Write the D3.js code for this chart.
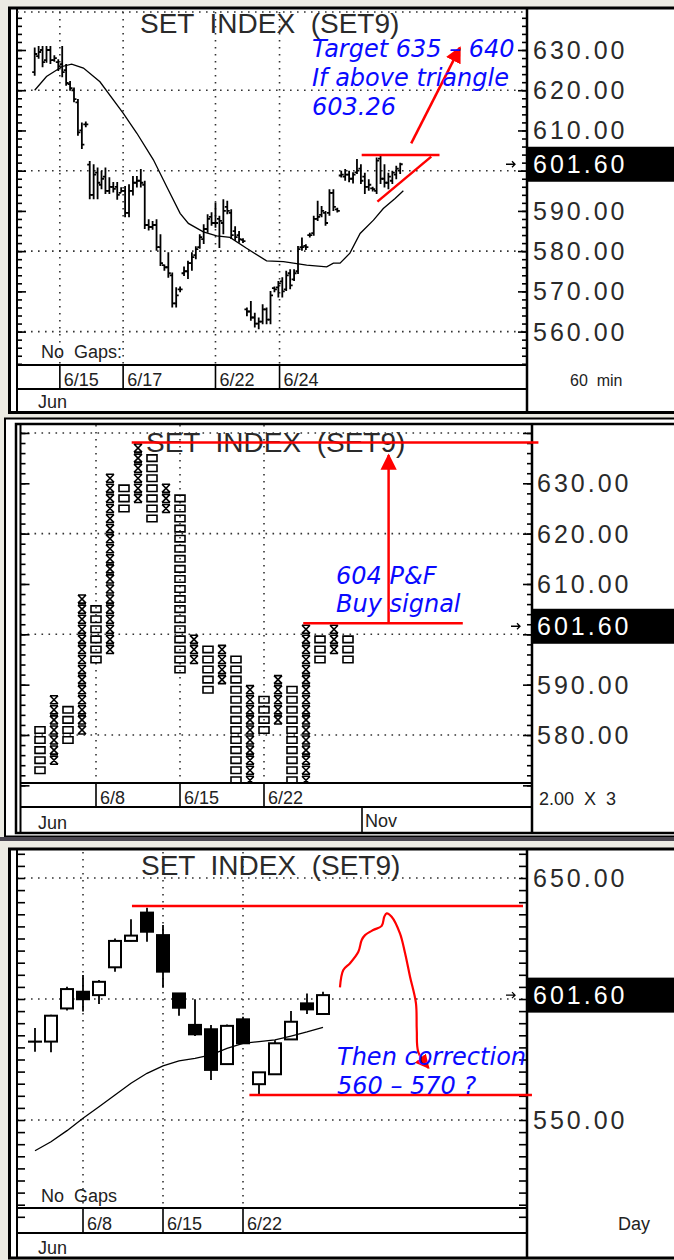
<!DOCTYPE html>
<html>
<head>
<meta charset="utf-8">
<script src="https://cdn.jsdelivr.net/npm/d3@7"></script>
<style>
  body { margin: 0; background: #ecebe3; }
  svg { display: block; }
  text { font-family: "Liberation Sans", Arial, sans-serif; }
  .note { font-family: "DejaVu Sans", Verdana, sans-serif; font-style: italic; fill: #0a0aff; font-size: 24px; }
</style>
</head>
<body>
<svg id="chart" width="674" height="1260"></svg>
<script>
// ---------- panel 1 : 60 min bars ----------
const hi1 = [630.4,630.8,630.8,630.8,630.8,628.5,627.5,630.8,626.3,622.1,
  620.5,617.6,611.8,612,602.2,601.4,600.6,599.8,600.6,598.2,
  597,597,595.7,596,596.4,598.5,598.5,600.2,597.3,587.7,
  587.3,587.7,584,576.5,579.5,574.5,570.8,571,576,577.4,
  579.5,581,584,586.5,589,589.5,591.9,588.6,592.7,592.3,
  590.2,586,584.8,583,565.8,567.4,564.5,563.3,566.6,565.8,
  569.9,571,572.4,573.3,574.9,575.3,575.3,581.1,583.2,581.5,
  584.4,588.6,592.3,591,589.8,595.2,595.2,590.6,599.8,600.2,
  599.8,599.4,602.7,601.4,599.3,597.7,595.8,603.1,603.5,601.4,
  599.3,599.8,601,601.8]
const lo1 = [623.8,628,625.9,627,626.7,627.3,625,623.4,621.3,620.1,
  617.2,608.9,605.6,611,593.1,593.1,593.1,595.6,594.4,594.4,
  594.8,593,594.8,588.6,588.6,594,596,596,585.7,585.3,
  585.5,580.3,576.5,575.3,573.6,566.2,566.2,570,574,573.3,
  575.3,578.2,580.8,582,584.8,586.5,586,581,584.4,589.4,
  583.2,582.8,582.3,582.2,564,562.9,561.2,560.8,562,562,
  562,570,568.7,568.7,570.3,570.7,572.8,574.5,580.3,580.5,
  583.6,584,587.7,588.6,586.5,589,590.2,589.8,598.5,597.7,
  597.3,597,599.4,596.9,594.4,595.2,595,594.4,596.9,596,
  595.6,596.9,598.1,599.4]
const op1 = [624.5,628.5,630,627.5,630,627.5,627,626.5,625,621.5,
  620,617,610,611.5,601.5,594,599.5,596.5,598.5,595,
  596,596,594.5,595,589.5,595,597,597.5,596.5,586.5,
  586,586.5,581,576.5,576,574,567,570.5,574.5,575,
  577,579,581,583,585.5,588.5,587,588,587,591,
  589.5,585,584,582.8,565.5,565,563.5,562,562.5,565.5,
  563,570.8,571,572.5,570.5,574.5,573,575,581,581.3,
  584,584.5,588,589,589.5,589.5,594.5,590.4,598.8,598.5,
  599,598,599.6,600.5,598.5,596,595.6,595,603,598,
  597,597.5,599,600]
const cl1 = [629,629.5,627,630,627.5,628,626,624.5,621.8,620.5,
  617.8,609.5,606.5,611.5,594,599,597,598,595,596,
  595.5,594,595,589.5,595,597,597.5,597,586.5,586,
  586.5,581,577,576,574.5,567,569,570.5,575,577,
  578.5,580.5,583.5,585.5,588,587,587,587.5,590,590,
  584,583.5,583,582.5,565,563.5,562,562.5,565.5,563,
  569,570.5,572,570,574,571.5,574.5,580.5,581,581,
  584,588,588.5,590,587,594.5,591,590,599,599,
  598,599,600,597.5,596,596.5,595.4,602.5,598,597,
  598.5,599.5,600.5,601.6]
// moving average, [bar index, value]
const ma1 = [[0,620],[3,623.4],[7,625.9],[9.4,626.5],[12.4,625.5],[16.6,622.1],[22.5,614.3],
  [26,609.3],[30.2,602.7],[33.6,596],[37,589.4],[39.1,586.9],[42.9,584.8],[46.3,583.8],
  [49.7,583.4],[53.9,580.7],[59,577.6],[63.3,577.4],[69.2,576.5],[74.3,576.1],[76,577],
  [77.7,577],[80.2,579.5],[82.8,584.4],[86.2,587.7],[88.7,590.6],[91.7,593.1],[93.8,595]]
const days1 = ['6/15', '6/17', '6/22', '6/24']
const dayAt1 = [6.4, 22.5, 46, 62.3]
const labels1 = [630, 620, 610, 590, 580, 570, 560]

// ---------- panel 2 : point & figure 2.00 x 3 ----------
const pfType = ['O','X','O','X','O','X','O','X','O','X','O','X','O','X','O','X','O','X','O','X','O','X','O']
const pfLow  = [572,574,578,580,594,596,624,626,622,624,592,594,588,590,566,568,580,582,564,566,594,596,594]
const pfHigh = [582,588,586,608,606,632,630,638,636,630,628,600,598,598,596,590,588,592,590,602,600,602,600]
const days2 = ['6/8', '6/15', '6/22']
const dayAt2 = [4, 10, 16]
const labels2 = [630, 620, 610, 590, 580]

// ---------- panel 3 : daily candles ----------
const op3 = [582.4,582.4,596.1,603,601.6,613.1,624,635.7,626.4,602.3,589.3,587.5,573.1,591.6,564.8,568.9,583.3,598.2,593.8]
const cl3 = [582.4,593.1,604.1,599.9,607.1,624,626.2,627.8,611.3,596.4,585.4,570.7,588.9,581.7,569.7,581.7,590.6,595.7,601.6]
const hi3 = [588,593.5,605.1,609.9,607.8,625,633,637.7,630.6,602.5,599.9,589.3,589.5,592.7,569.8,583,595,602.3,603]
const lo3 = [578.2,578,595.2,594.8,597.9,611.3,623.8,623.7,604.7,593.1,584.7,566.5,573,581.5,560.3,568.8,583.2,593.8,593.6]
const ma3 = [537.3,541,545.6,550.7,555.5,560.3,565.2,569.3,572.4,574.4,575.5,576.9,579.6,581.7,582.4,583.1,584.7,586.4,588.3]
const days3 = ['6/8', '6/15', '6/22']
const dayAt3 = [3, 8, 13]
const labels3 = [650, 550]

const lastPrice = 601.60
const title = 'SET INDEX (SET9)'

// ---------- scales ----------
const x1 = d3.scaleLinear().domain([0, 93]).range([34.7, 400.2])
const y1 = d3.scaleLinear().domain([560, 630]).range([331.6, 50])
const x2 = d3.scaleLinear().domain([0, 1]).range([40, 54])
const y2 = d3.scaleLinear().domain([580, 630]).range([735, 483.3])
const x3 = d3.scaleLinear().domain([0, 1]).range([35, 51])
const y3 = d3.scaleLinear().domain([550, 650]).range([1120, 878])

const svg = d3.select('#chart')
const fmt = d3.format('.2f')

svg.append('defs').append('marker')
    .attr('id', 'head')
    .attr('viewBox', '0 0 10 10')
    .attr('refX', 9).attr('refY', 5)
    .attr('markerWidth', 6.5).attr('markerHeight', 6.5)
    .attr('markerUnits', 'strokeWidth')
    .attr('orient', 'auto')
  .append('path')
    .attr('d', 'M0,0 L10,5 L0,10 z')
    .attr('fill', '#ff0000')

// panel frame, grid, ticks, labels
function panel(c) {
  let g = svg.append('g')
  g.append('rect').attr('x', c.box[0]).attr('y', c.box[1])
      .attr('width', 700 - c.box[0]).attr('height', c.box[3] - c.box[1])
      .attr('fill', '#fff').attr('stroke', '#000').attr('stroke-width', c.boxW)

  // dotted grid
  let dots = g.append('g').attr('stroke', '#333').attr('stroke-width', 1.6)
      .attr('stroke-dasharray', '1.6 5.4')
  dots.selectAll('line.h').data(c.hgrid).join('line').attr('class', 'h')
      .attr('x1', c.left).attr('x2', c.right)
      .attr('y1', d => c.y(d)).attr('y2', d => c.y(d))
  dots.selectAll('line.v').data(c.vgrid).join('line').attr('class', 'v')
      .attr('x1', d => c.x(d)).attr('x2', d => c.x(d))
      .attr('y1', c.top).attr('y2', c.bottom)

  // tick marks both sides
  c.ticks.forEach(t => {
    let l = g.append('g').attr('transform', `translate(${c.left},0)`)
        .call(d3.axisRight(c.y).tickValues(t.v).tickSize(t.len).tickFormat(''))
    let r = g.append('g').attr('transform', `translate(${c.right},0)`)
        .call(d3.axisLeft(c.y).tickValues(t.v).tickSize(t.len).tickFormat(''))
    ;[l, r].forEach(a => {
      a.select('.domain').remove()
      a.selectAll('line').attr('stroke', '#000').attr('stroke-width', 1.6)
    })
  })

  // borders
  let b = g.append('g').attr('stroke', '#000').attr('fill', 'none')
  b.append('line').attr('x1', c.left).attr('x2', c.left).attr('y1', c.box[1]).attr('y2', c.box[3])
      .attr('stroke-width', 2)
  b.append('line').attr('x1', c.right).attr('x2', c.right).attr('y1', c.box[1]).attr('y2', c.box[3])
      .attr('stroke-width', 2.5)
  b.append('line').attr('x1', c.left).attr('x2', c.right).attr('y1', c.bottom).attr('y2', c.bottom)
      .attr('stroke-width', 2)
  b.append('line').attr('x1', c.left).attr('x2', c.right).attr('y1', c.dateRow).attr('y2', c.dateRow)
      .attr('stroke-width', 2)

  // date row
  g.selectAll('line.sep').data(c.dayAt).join('line').attr('class', 'sep')
      .attr('x1', d => c.x(d)).attr('x2', d => c.x(d))
      .attr('y1', c.bottom).attr('y2', c.dateRow)
      .attr('stroke', '#000').attr('stroke-width', 1.6)
  g.selectAll('text.day').data(c.days).join('text').attr('class', 'day')
      .attr('x', (d, i) => c.x(c.dayAt[i]) + 4).attr('y', c.dateRow - 3)
      .attr('font-size', 18).attr('fill', '#222').text(d => d)
  g.append('text').attr('x', 38).attr('y', c.box[3] - 4.5)
      .attr('font-size', 18).attr('fill', '#222').text('Jun')

  // price labels
  g.selectAll('text.lab').data(c.labels).join('text').attr('class', 'lab')
      .attr('x', c.labX).attr('y', d => c.y(d) + 9)
      .attr('font-size', 25).attr('letter-spacing', 3).attr('fill', '#2a2a2a')
      .text(d => fmt(d))
  let ly = c.y(lastPrice)
  g.append('rect').attr('x', c.right).attr('y', ly - 17.5).attr('width', 700 - c.right).attr('height', 35)
      .attr('fill', '#000')
  g.append('text').attr('x', c.labX).attr('y', ly + 9)
      .attr('font-size', 25).attr('letter-spacing', 3).attr('fill', '#fff').text(fmt(lastPrice))
  g.append('path')
      .attr('d', `M${c.right - 21},${ly} H${c.right - 12} M${c.right - 15},${ly - 3} L${c.right - 12},${ly} L${c.right - 15},${ly + 3}`)
      .attr('stroke', '#000').attr('stroke-width', 1.3).attr('fill', 'none')

  // title
  g.append('text').attr('x', c.titleX).attr('y', c.titleY)
      .attr('font-size', 28).attr('fill', '#2a2a2a')
      .attr('xml:space', 'preserve')
      .text(title.replace(/ /g, '  '))

  g.append('text').attr('x', c.unit[0]).attr('y', c.unit[1])
      .attr('font-size', c.unit[3]).attr('fill', '#222')
      .attr('xml:space', 'preserve').text(c.unit[2])
  return g
}

// ---------- panel 1 ----------
let g1 = panel({
  box: [9.5, 8, 0, 412.5], boxW: 3,
  left: 17, right: 527, top: 12, bottom: 365, dateRow: 389,
  x: x1, y: y1,
  hgrid: [620, 600, 580, 560], vgrid: dayAt1,
  ticks: [{ v: d3.range(552, 640, 2), len: 5 }, { v: d3.range(560, 640, 10), len: 9 }],
  days: days1, dayAt: dayAt1, labels: labels1, labX: 533,
  titleX: 140, titleY: 33, unit: [570, 386, '60  min', 16]
})
g1.append('line').attr('x1', 17).attr('x2', 527).attr('y1', 12).attr('y2', 12)
    .attr('stroke', '#333').attr('stroke-width', 1.6).attr('stroke-dasharray', '1.6 5.4')

let bars = g1.append('g').attr('stroke', '#000').attr('stroke-width', 1.8).attr('fill', 'none')
bars.selectAll('path').data(hi1).join('path')
    .attr('d', (d, i) => {
      let x = x1(i)
      return `M${x},${y1(d) - 0.8}V${y1(lo1[i]) + 0.8}M${x - 2.5},${y1(op1[i])}H${x}M${x},${y1(cl1[i])}H${x + 2.5}`
    })
g1.append('path').datum(ma1)
    .attr('d', d3.line().x(d => x1(d[0])).y(d => y1(d[1])))
    .attr('fill', 'none').attr('stroke', '#000').attr('stroke-width', 1.3)
g1.append('text').attr('x', 41).attr('y', 358).attr('font-size', 18).attr('fill', '#222')
    .attr('xml:space', 'preserve').text('No  Gaps:')

// red triangle and target arrow (bar index, price)
let red1 = g1.append('g').attr('stroke', '#ff0000').attr('stroke-width', 2.5).attr('fill', 'none')
red1.append('line').attr('x1', x1(83.2)).attr('x2', x1(103)).attr('y1', y1(603.9)).attr('y2', y1(603.9))
red1.append('line').attr('x1', x1(87.2)).attr('x2', x1(100.9)).attr('y1', y1(592.3)).attr('y2', y1(603.5))
red1.append('line').attr('x1', x1(95.8)).attr('x2', x1(108.2)).attr('y1', y1(606.8)).attr('y2', y1(630.6))
    .attr('marker-end', 'url(#head)')
let n1 = g1.append('text').attr('class', 'note')
;['Target 635 – 640', 'If above triangle', '603.26'].forEach((t, i) =>
  n1.append('tspan').attr('x', 312).attr('y', 57 + i * 29).text(t))

// ---------- panel 2 ----------
svg.append('rect').attr('x', 5).attr('y', 418.5).attr('width', 700).attr('height', 418)
    .attr('fill', '#fff').attr('stroke', '#000').attr('stroke-width', 2)
let g2 = panel({
  box: [16, 424, 0, 833], boxW: 2.5,
  left: 20.5, right: 532, top: 425, bottom: 783, dateRow: 807,
  x: x2, y: y2,
  hgrid: [640, 620, 600, 580], vgrid: dayAt2,
  ticks: [{ v: d3.range(570, 642, 2), len: 5 }, { v: d3.range(570, 642, 10), len: 9 }],
  days: days2, dayAt: dayAt2, labels: labels2, labX: 537,
  titleX: 146, titleY: 451.5, unit: [539, 805, '2.00  X  3', 18]
})
g2.append('line').attr('x1', x2(23)).attr('x2', x2(23)).attr('y1', 807).attr('y2', 833)
    .attr('stroke', '#000').attr('stroke-width', 1.6)
g2.append('text').attr('x', x2(23) + 3).attr('y', 827).attr('font-size', 18).attr('fill', '#222').text('Nov')

svg.append('clipPath').attr('id', 'pfclip').append('rect')
    .attr('x', 21).attr('y', 425).attr('width', 510).attr('height', 357)
// boxes: one per 2-point box in each column
let boxes = []
pfType.forEach((t, i) => {
  for (let p = pfLow[i]; p < pfHigh[i]; p += 2) boxes.push({ col: i, p: p, t: t })
})
let pf = g2.append('g').attr('clip-path', 'url(#pfclip)')
    .attr('stroke', '#000').attr('stroke-width', 1.6).attr('fill', 'none')
pf.selectAll('path').data(boxes).join('path')
    .attr('d', d => {
      let cx = x2(d.col), t = y2(d.p + 2), b = y2(d.p)
      if (d.t === 'O') return `M${cx - 5},${t + 1.8}H${cx + 5}V${b - 1.8}H${cx - 5}Z`
      return `M${cx - 4},${t + 1}H${cx + 4}M${cx - 4},${b - 1}H${cx + 4}` +
        `M${cx - 4},${t + 1}L${cx + 4},${b - 1}M${cx + 4},${t + 1}L${cx - 4},${b - 1}`
    })

let red2 = g2.append('g').attr('stroke', '#ff0000').attr('stroke-width', 2.5).attr('fill', 'none')
red2.append('line').attr('x1', x2(6.55)).attr('x2', x2(35.6)).attr('y1', y2(638.1)).attr('y2', y2(638.1))
red2.append('line').attr('x1', x2(18.8)).attr('x2', x2(30.2)).attr('y1', y2(602.2)).attr('y2', y2(602.2))
red2.append('line').attr('x1', x2(24.9)).attr('x2', x2(24.9)).attr('y1', y2(602.2)).attr('y2', y2(635.6))
    .attr('marker-end', 'url(#head)')
let n2 = g2.append('text').attr('class', 'note')
;['604 P&F', 'Buy signal'].forEach((t, i) =>
  n2.append('tspan').attr('x', 336).attr('y', 584 + i * 28).attr('xml:space', 'preserve').text(t))

// ---------- panel 3 ----------
svg.append('rect').attr('x', 0).attr('y', 837).attr('width', 674).attr('height', 4).attr('fill', '#4a4650')
let g3 = panel({
  box: [9.5, 849, 0, 1258], boxW: 3,
  left: 17, right: 527, top: 852, bottom: 1208, dateRow: 1233,
  x: x3, y: y3,
  hgrid: [650, 600, 550], vgrid: dayAt3,
  ticks: [{ v: d3.range(510, 665, 5), len: 8 }],
  days: days3, dayAt: dayAt3, labels: labels3, labX: 533,
  titleX: 141, titleY: 875, unit: [618, 1230, 'Day', 18]
})
let cs = g3.append('g').attr('stroke', '#000')
cs.selectAll('line').data(hi3).join('line')
    .attr('x1', (d, i) => x3(i)).attr('x2', (d, i) => x3(i))
    .attr('y1', d => y3(d)).attr('y2', (d, i) => y3(lo3[i])).attr('stroke-width', 1.8)
cs.selectAll('rect').data(op3).join('rect')
    .attr('x', (d, i) => x3(i) - 6).attr('width', 12)
    .attr('y', (d, i) => y3(Math.max(d, cl3[i])))
    .attr('height', (d, i) => Math.max(0.1, Math.abs(y3(d) - y3(cl3[i]))))
    .attr('fill', (d, i) => cl3[i] >= d ? '#fff' : '#000').attr('stroke-width', 2)
g3.append('path').datum(ma3)
    .attr('d', d3.line().x((d, i) => x3(i)).y(d => y3(d)))
    .attr('fill', 'none').attr('stroke', '#000').attr('stroke-width', 1.3)
g3.append('text').attr('x', 41).attr('y', 1202).attr('font-size', 18).attr('fill', '#222')
    .attr('xml:space', 'preserve').text('No  Gaps')

// projected path (day index, price)
const path3 = [[19.06,604.8],[19.27,612],[19.69,614.8],[20.21,619.5],[20.42,624.4],[20.63,626.4],
  [21.14,628.5],[21.67,630.2],[21.83,634],[21.98,635.4],[22.29,634],[22.81,627.1],[23.13,618.9],
  [23.44,609.2],[23.81,598.2],[23.86,587.2],[23.96,578],[24.6,571.5]]
let red3 = g3.append('g').attr('stroke', '#ff0000').attr('stroke-width', 2.5).attr('fill', 'none')
red3.append('line').attr('x1', x3(6.06)).attr('x2', x3(30.5)).attr('y1', y3(638.4)).attr('y2', y3(638.4))
red3.append('line').attr('x1', x3(13.4)).attr('x2', x3(31.06)).attr('y1', y3(560.3)).attr('y2', y3(560.3))
red3.append('path').datum(path3)
    .attr('d', d3.line().x(d => x3(d[0])).y(d => y3(d[1])).curve(d3.curveCatmullRom))
    .attr('stroke-width', 2.2).attr('marker-end', 'url(#head)')
let n3 = g3.append('text').attr('class', 'note')
;['Then correction', '560 – 570 ?'].forEach((t, i) =>
  n3.append('tspan').attr('x', 337).attr('y', 1065 + i * 28.5).text(t))
</script>
</body>
</html>
